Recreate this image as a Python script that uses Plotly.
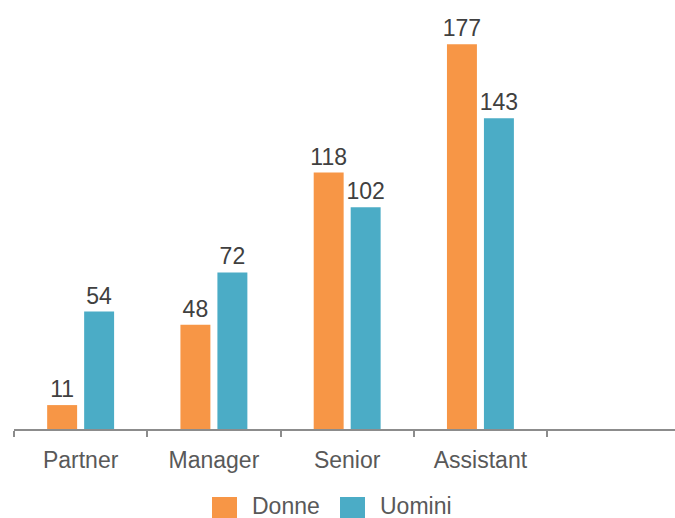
import plotly.graph_objects as go

# Staff counts by role and gender
categories = ["Partner", "Manager", "Senior", "Assistant"]
donne = [11, 48, 118, 177]
uomini = [54, 72, 102, 143]
series_names = ["Donne", "Uomini"]

ORANGE = "#F79646"
BLUE = "#4BACC6"
FONT = "Liberation Sans, Arial, Helvetica, sans-serif"
FS = 23

W, H = 675, 518
M_L, M_R, M_T, M_B = 14, 0, 16, 89

fig = go.Figure()
for name, vals, col in zip(series_names, [donne, uomini], [ORANGE, BLUE]):
    fig.add_trace(go.Bar(
        name=name, x=categories, y=vals, marker_color=col,
        marker_line_width=0,
        text=[str(v) for v in vals], textposition="outside",
        constraintext="none",
        textfont=dict(size=FS, color="#404040", family=FONT),
        cliponaxis=False, showlegend=False,
    ))

# pixel -> paper helpers for the hand-built legend
pw = W - M_L - M_R
ph = H - M_T - M_B
def px_x(x):
    return (x - M_L) / pw
def px_y(y):
    return (H - M_B - y) / ph

shapes = []
annotations = []
legend_items = [(series_names[0], ORANGE, 212), (series_names[1], BLUE, 340)]
for name, col, x0 in legend_items:
    shapes.append(dict(type="rect", xref="paper", yref="paper",
                       x0=px_x(x0), x1=px_x(x0 + 25),
                       y0=px_y(497), y1=px_y(522),
                       fillcolor=col, line_width=0, layer="above"))
    annotations.append(dict(xref="paper", yref="paper", x=px_x(x0 + 38),
                            y=px_y(517), xanchor="left", yanchor="bottom",
                            yshift=-4,
                            text=name, showarrow=False,
                            font=dict(size=FS, color="#595959", family=FONT)))

fig.update_layout(
    width=W, height=H,
    margin=dict(l=M_L, r=M_R, t=M_T, b=M_B),
    plot_bgcolor="white", paper_bgcolor="white",
    barmode="group", bargap=0.445, bargroupgap=0.19,
    font=dict(family=FONT, size=FS, color="#595959"),
    shapes=shapes, annotations=annotations,
    xaxis=dict(
        type="category", range=[-0.5, 4.46],
        showline=True, linecolor="#8C8C8C", linewidth=2,
        ticks="outside", tickson="boundaries", ticklen=6,
        tickcolor="#8C8C8C", tickwidth=2,
        ticklabelstandoff=9,
        tickfont=dict(size=FS, color="#595959", family=FONT),
        showgrid=False, zeroline=False,
    ),
    yaxis=dict(range=[0, 190], visible=False, showgrid=False, zeroline=False),
)

fig.write_html("out.html")
